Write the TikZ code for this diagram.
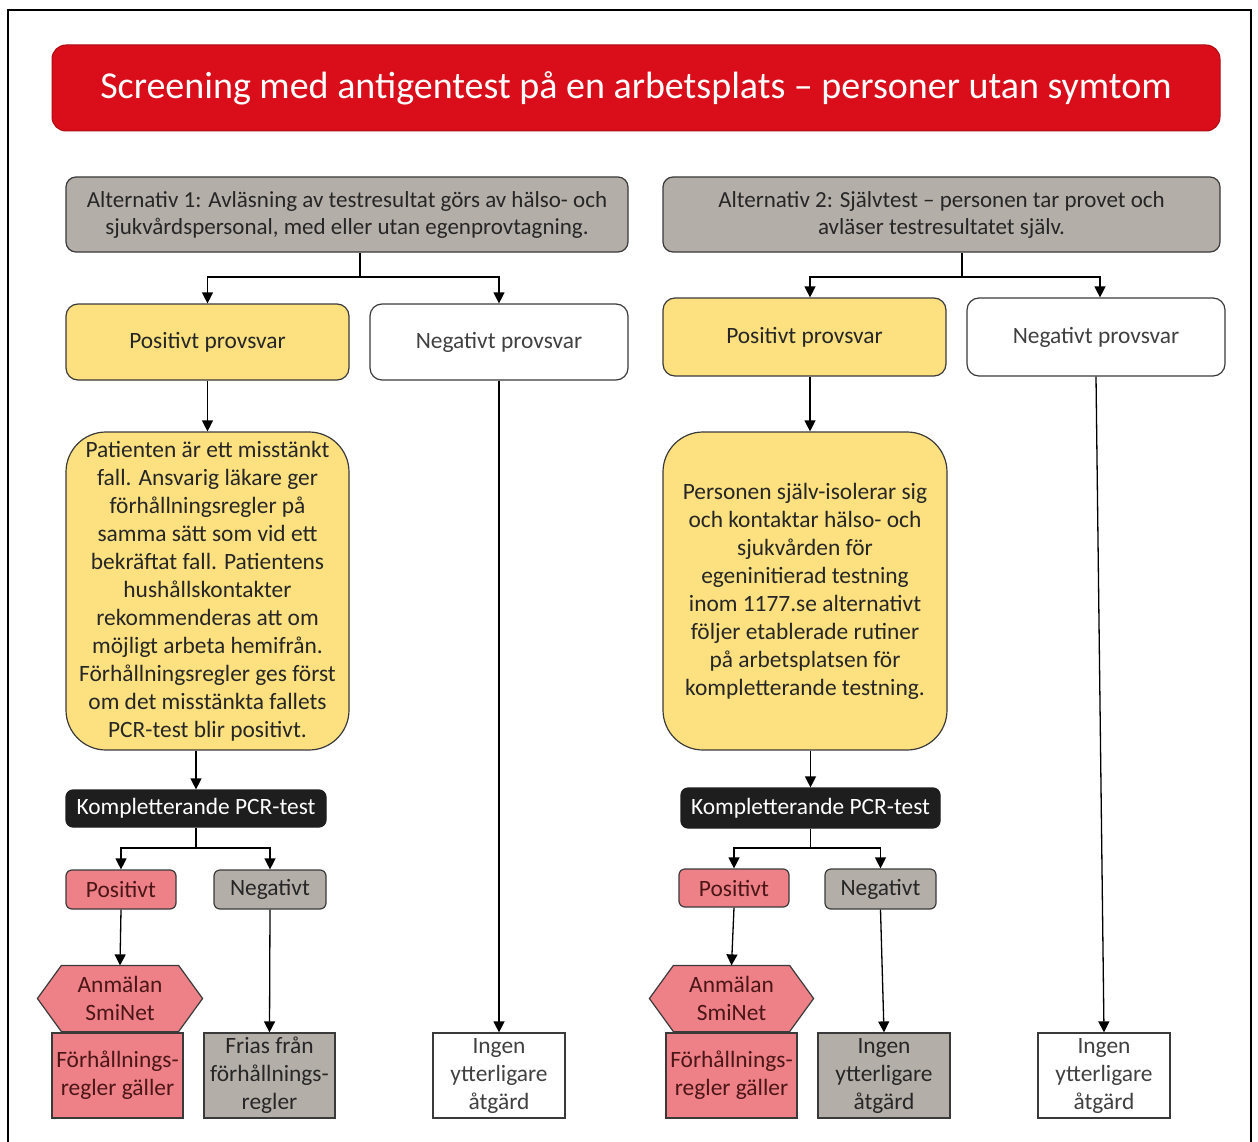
\documentclass[tikz,border=0pt]{standalone}
\usepackage{fontspec}
\setmainfont{Carlito}
\usetikzlibrary{arrows.meta,backgrounds}
\definecolor{titlered}{HTML}{DA0E1A}
\definecolor{boxgray}{HTML}{B4AEA8}
\definecolor{boxyellow}{HTML}{FDE07F}
\definecolor{boxpink}{HTML}{EE8087}
\definecolor{boxblack}{HTML}{1E1E1E}
\definecolor{txtdark}{HTML}{262626}
\definecolor{txtpink}{HTML}{4A1616}
\definecolor{edgegray}{HTML}{3A3A3A}
\tikzset{
 base/.style={draw=edgegray, line width=1.2pt, align=center, inner sep=0pt, text=txtdark, font=\fontsize{23.4}{28}\selectfont},
 altbox/.style={base, fill=boxgray, rounded corners=10pt, font=\fontsize{23}{27}\selectfont},
 posbox/.style={base, fill=boxyellow, rounded corners=12pt},
 negbox/.style={base, fill=white, rounded corners=12pt, text=black!75},
 bigbox/.style={base, fill=boxyellow, rounded corners=40pt},
 pcrbox/.style={base, fill=boxblack, draw=boxblack, text=white, rounded corners=7pt},
 smallpink/.style={base, fill=boxpink, text=txtpink, rounded corners=6pt},
 smallgray/.style={base, fill=boxgray, rounded corners=6pt},
 pinkbox/.style={base, fill=boxpink, text=txtpink},
 graybox/.style={base, fill=boxgray},
 whitebox/.style={base, fill=white, text=black!75},
 hexnode/.style={base, draw=none, text=txtpink},
 hexfill/.style={fill=boxpink, draw=edgegray, line width=1.2pt},
 arr/.style={-{Triangle[width=11pt,length=11pt]}, line width=1.3pt, black},
 conn/.style={line width=1.3pt, black},
}
\begin{document}
\begin{tikzpicture}[x=1pt,y=-1pt]
\useasboundingbox (0,0) rectangle (1258,1142);
\draw[line width=2pt] (8,1150) -- (8,10) -- (1251,10) -- (1251,1150);

\node[fill=titlered, draw=titlered!80!black, line width=1pt, rounded corners=14pt, minimum width=1168pt, minimum height=86pt, text=white, inner sep=0pt, font=\fontsize{38}{44}\selectfont] (title) at (636,88) {Screening med antigentest på en arbetsplats – personer utan symtom};

\node[altbox, minimum width=562pt, minimum height=75pt] (alt1) at (347,214.5) {Alternativ 1: Avläsning av testresultat görs av hälso- och\\sjukvårdspersonal, med eller utan egenprovtagning.};
\node[altbox, minimum width=557pt, minimum height=75pt] (alt2) at (941.5,214.5) {Alternativ 2: Självtest – personen tar provet och\\avläser testresultatet själv.};

\node[posbox, minimum width=283pt, minimum height=76pt] (pos1) at (207.5,342) {Positivt provsvar};
\node[negbox, minimum width=258pt, minimum height=76pt] (neg1) at (499,342) {Negativt provsvar};
\node[posbox, minimum width=283pt, minimum height=78pt] (pos2) at (804.5,337) {Positivt provsvar};
\node[negbox, minimum width=258pt, minimum height=78pt] (neg2) at (1096,337) {Negativt provsvar};

\node[bigbox, minimum width=283pt, minimum height=318pt] (big1) at (207.5,591) {Patienten är ett misstänkt\\fall. Ansvarig läkare ger\\förhållningsregler på\\samma sätt som vid ett\\bekräftat fall. Patientens\\hushållskontakter\\rekommenderas att om\\möjligt arbeta hemifrån.\\Förhållningsregler ges först\\om det misstänkta fallets\\PCR-test blir positivt.};
\node[bigbox, minimum width=284pt, minimum height=318pt] (big2) at (805,591) {Personen själv-isolerar sig\\och kontaktar hälso- och\\sjukvården för\\egeninitierad testning\\inom 1177.se alternativt\\följer etablerade rutiner\\på arbetsplatsen för\\kompletterande testning.};

\node[pcrbox, minimum width=260pt, minimum height=37pt] (pcr1) at (196,808.5) {Kompletterande PCR-test};
\node[pcrbox, minimum width=259pt, minimum height=40pt] (pcr2) at (810.5,808) {Kompletterande PCR-test};

\node[smallpink, minimum width=110pt, minimum height=39pt] (p1) at (121,889.5) {Positivt};
\node[smallgray, minimum width=112pt, minimum height=39pt] (n1) at (270,889.5) {Negativt};
\node[smallpink, minimum width=110pt, minimum height=38pt] (p2) at (734,888) {Positivt};
\node[smallgray, minimum width=111pt, minimum height=40pt] (n2) at (880.5,889) {Negativt};

\node[hexnode, minimum width=164pt, minimum height=65pt] (hex1) at (120,998.5) {Anmälan\\SmiNet};
\node[hexnode, minimum width=163pt, minimum height=65pt] (hex2) at (731.5,998.5) {Anmälan\\SmiNet};
\begin{pgfonlayer}{background}
\foreach \h in {hex1,hex2}{
 \draw[hexfill] (\h.west) -- ([xshift=24pt]\h.north west) -- ([xshift=-24pt]\h.north east) -- (\h.east) -- ([xshift=-24pt]\h.south east) -- ([xshift=24pt]\h.south west) -- cycle;
}
\end{pgfonlayer}

\node[pinkbox, minimum width=131pt, minimum height=85pt] (f1) at (117.5,1075.5) {Förhållnings-\\regler gäller};
\node[graybox, minimum width=131pt, minimum height=85pt] (fr1) at (269.5,1075.5) {Frias från\\förhållnings-\\regler};
\node[whitebox, minimum width=132pt, minimum height=85pt] (ing1) at (499,1075.5) {Ingen\\ytterligare\\åtgärd};
\node[pinkbox, minimum width=131pt, minimum height=85pt] (f2) at (731.5,1075.5) {Förhållnings-\\regler gäller};
\node[graybox, minimum width=132pt, minimum height=85pt] (ing2) at (884,1075.5) {Ingen\\ytterligare\\åtgärd};
\node[whitebox, minimum width=132pt, minimum height=85pt] (ing3) at (1104,1075.5) {Ingen\\ytterligare\\åtgärd};

% connectors
\coordinate (j1) at (360,277);
\draw[conn] (alt1.south -| j1) -- (j1);
\draw[arr] (j1) -| (pos1.north);
\draw[arr] (j1) -| (neg1.north);
\coordinate (j2) at (962,277);
\draw[conn] (alt2.south -| j2) -- (j2);
\draw[arr] (j2) -| ([xshift=5.5pt]pos2.north);
\draw[arr] (j2) -| ([xshift=4pt]neg2.north);

\draw[arr] (pos1.south) -- (big1.north);
\draw[arr] ([xshift=5.5pt]pos2.south) -- ([xshift=5pt]big2.north);

\draw[arr] (big1.south -| pcr1.north) -- (pcr1.north);
\draw[arr] (big2.south -| pcr2.north) -- (pcr2.north);

\coordinate (k1) at (196,848);
\draw[conn] (pcr1.south) -- (k1);
\draw[arr] (k1) -| (p1.north);
\draw[arr] (k1) -| (n1.north);
\coordinate (k2) at (810.5,848);
\draw[conn] (pcr2.south) -- (k2);
\draw[arr] (k2) -| (p2.north);
\draw[arr] (k2) -| (n2.north);

\draw[arr] (p1.south) -- (hex1.north);
\draw[arr] (n1.south) -- (fr1.north);
\draw[arr] (neg1.south) -- (ing1.north);
\draw[arr] (p2.south) -- (hex2.north);
\draw[arr] (n2.south) -- (ing2.north);
\draw[arr] (neg2.south) -- (ing3.north);
\end{tikzpicture}
\end{document}
